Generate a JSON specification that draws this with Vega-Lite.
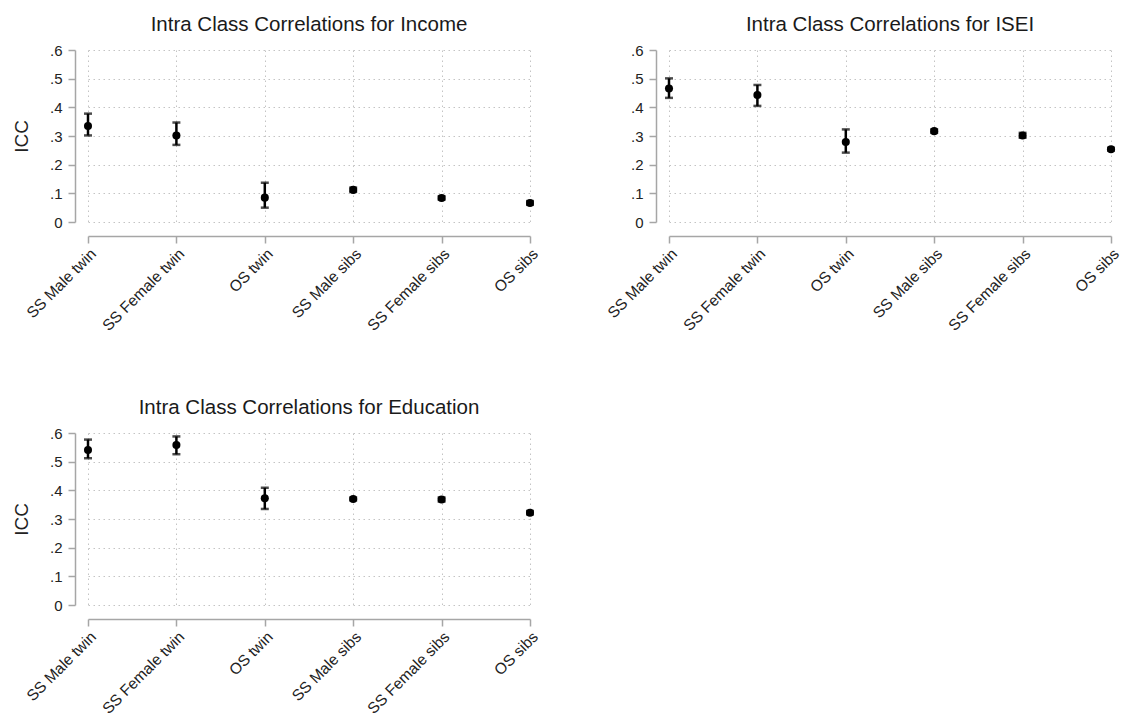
{
  "$schema": "https://vega.github.io/schema/vega-lite/v6.json",
  "background": "white",
  "padding": {"left": 12, "top": 14, "right": 0, "bottom": 0},
  "datasets": {
    "icc": [
      {"measure": "Income", "group": "SS Male twin", "icc": 0.335, "lo": 0.302, "hi": 0.378},
      {"measure": "Income", "group": "SS Female twin", "icc": 0.302, "lo": 0.269, "hi": 0.347},
      {"measure": "Income", "group": "OS twin", "icc": 0.085, "lo": 0.050, "hi": 0.137},
      {"measure": "Income", "group": "SS Male sibs", "icc": 0.112, "lo": 0.105, "hi": 0.120},
      {"measure": "Income", "group": "SS Female sibs", "icc": 0.084, "lo": 0.078, "hi": 0.090},
      {"measure": "Income", "group": "OS sibs", "icc": 0.066, "lo": 0.060, "hi": 0.073},
      {"measure": "ISEI", "group": "SS Male twin", "icc": 0.466, "lo": 0.433, "hi": 0.501},
      {"measure": "ISEI", "group": "SS Female twin", "icc": 0.443, "lo": 0.405, "hi": 0.478},
      {"measure": "ISEI", "group": "OS twin", "icc": 0.279, "lo": 0.242, "hi": 0.323},
      {"measure": "ISEI", "group": "SS Male sibs", "icc": 0.317, "lo": 0.311, "hi": 0.323},
      {"measure": "ISEI", "group": "SS Female sibs", "icc": 0.302, "lo": 0.294, "hi": 0.311},
      {"measure": "ISEI", "group": "OS sibs", "icc": 0.254, "lo": 0.249, "hi": 0.259},
      {"measure": "Education", "group": "SS Male twin", "icc": 0.541, "lo": 0.512, "hi": 0.577},
      {"measure": "Education", "group": "SS Female twin", "icc": 0.558, "lo": 0.526, "hi": 0.588},
      {"measure": "Education", "group": "OS twin", "icc": 0.372, "lo": 0.335, "hi": 0.409},
      {"measure": "Education", "group": "SS Male sibs", "icc": 0.370, "lo": 0.365, "hi": 0.375},
      {"measure": "Education", "group": "SS Female sibs", "icc": 0.368, "lo": 0.361, "hi": 0.375},
      {"measure": "Education", "group": "OS sibs", "icc": 0.322, "lo": 0.316, "hi": 0.328}
    ]
  },
  "data": {"name": "icc"},
  "config": {
    "font": "Liberation Sans",
    "view": {"stroke": null},
    "title": {"fontSize": 20.5, "fontWeight": "normal", "color": "#1a1a1a", "anchor": "middle", "offset": 8},
    "axis": {
      "domainColor": "#a6a6a6", "domainWidth": 1.5, "tickColor": "#a6a6a6", "tickWidth": 1.5, "tickSize": 7,
      "labelFont": "Liberation Sans", "labelFontSize": 15.5, "labelColor": "#222222", "labelPadding": 3,
      "titleFont": "Liberation Sans", "titleFontSize": 19, "titleFontWeight": "normal", "titleColor": "#222222",
      "gridColor": "#c4c4c4", "gridDash": [1.5, 3.5], "gridWidth": 1, "labelOverlap": false
    },
    "axisY": {"labelFontSize": 15, "labelPadding": 6}
  },
  "spacing": 63,
  "vconcat": [
    {
      "spacing": 64,
      "hconcat": [
        {
          "width": 442, "height": 172,
          "title": "Intra Class Correlations for Income",
          "transform": [{"filter": "datum.measure === 'Income'"}],
          "encoding": {
            "x": {"field": "group", "type": "nominal", "sort": ["SS Male twin", "SS Female twin", "OS twin", "SS Male sibs", "SS Female sibs", "OS sibs"], "scale": {"type": "point", "padding": 0}, "axis": {"title": null, "labelAngle": -45, "offset": 14, "grid": true}}
          },
          "layer": [
            {"mark": {"type": "errorbar", "ticks": true, "thickness": 2.5, "size": 8, "color": "black"},
             "encoding": {"y": {"field": "lo", "type": "quantitative", "title": "ICC", "scale": {"domain": [0, 0.6], "nice": false}, "axis": {"values": [0, 0.1, 0.2, 0.3, 0.4, 0.5, 0.6], "labelExpr": "datum.value === 0 ? '0' : replace(format(datum.value, '.1f'), '0.', '.')", "offset": 13, "titlePadding": 18, "grid": true}}, "y2": {"field": "hi"}}},
            {"mark": {"type": "point", "filled": true, "shape": "circle", "size": 65, "color": "black", "opacity": 1},
             "encoding": {"y": {"field": "icc", "type": "quantitative", "title": "ICC", "scale": {"domain": [0, 0.6], "nice": false}, "axis": {"values": [0, 0.1, 0.2, 0.3, 0.4, 0.5, 0.6], "labelExpr": "datum.value === 0 ? '0' : replace(format(datum.value, '.1f'), '0.', '.')", "offset": 13, "titlePadding": 18, "grid": true}}}}
          ]
        },
        {
          "width": 442, "height": 172,
          "title": "Intra Class Correlations for ISEI",
          "transform": [{"filter": "datum.measure === 'ISEI'"}],
          "encoding": {
            "x": {"field": "group", "type": "nominal", "sort": ["SS Male twin", "SS Female twin", "OS twin", "SS Male sibs", "SS Female sibs", "OS sibs"], "scale": {"type": "point", "padding": 0}, "axis": {"title": null, "labelAngle": -45, "offset": 14, "grid": true}}
          },
          "layer": [
            {"mark": {"type": "errorbar", "ticks": true, "thickness": 2.5, "size": 8, "color": "black"},
             "encoding": {"y": {"field": "lo", "type": "quantitative", "title": null, "scale": {"domain": [0, 0.6], "nice": false}, "axis": {"values": [0, 0.1, 0.2, 0.3, 0.4, 0.5, 0.6], "labelExpr": "datum.value === 0 ? '0' : replace(format(datum.value, '.1f'), '0.', '.')", "offset": 13, "grid": true}}, "y2": {"field": "hi"}}},
            {"mark": {"type": "point", "filled": true, "shape": "circle", "size": 65, "color": "black", "opacity": 1},
             "encoding": {"y": {"field": "icc", "type": "quantitative", "title": null, "scale": {"domain": [0, 0.6], "nice": false}, "axis": {"values": [0, 0.1, 0.2, 0.3, 0.4, 0.5, 0.6], "labelExpr": "datum.value === 0 ? '0' : replace(format(datum.value, '.1f'), '0.', '.')", "offset": 13, "grid": true}}}}
          ]
        }
      ]
    },
    {
      "width": 442, "height": 172,
      "title": "Intra Class Correlations for Education",
      "transform": [{"filter": "datum.measure === 'Education'"}],
      "encoding": {
        "x": {"field": "group", "type": "nominal", "sort": ["SS Male twin", "SS Female twin", "OS twin", "SS Male sibs", "SS Female sibs", "OS sibs"], "scale": {"type": "point", "padding": 0}, "axis": {"title": null, "labelAngle": -45, "offset": 14, "grid": true}}
      },
      "layer": [
        {"mark": {"type": "errorbar", "ticks": true, "thickness": 2.5, "size": 8, "color": "black"},
         "encoding": {"y": {"field": "lo", "type": "quantitative", "title": "ICC", "scale": {"domain": [0, 0.6], "nice": false}, "axis": {"values": [0, 0.1, 0.2, 0.3, 0.4, 0.5, 0.6], "labelExpr": "datum.value === 0 ? '0' : replace(format(datum.value, '.1f'), '0.', '.')", "offset": 13, "titlePadding": 18, "grid": true}}, "y2": {"field": "hi"}}},
        {"mark": {"type": "point", "filled": true, "shape": "circle", "size": 65, "color": "black", "opacity": 1},
         "encoding": {"y": {"field": "icc", "type": "quantitative", "title": "ICC", "scale": {"domain": [0, 0.6], "nice": false}, "axis": {"values": [0, 0.1, 0.2, 0.3, 0.4, 0.5, 0.6], "labelExpr": "datum.value === 0 ? '0' : replace(format(datum.value, '.1f'), '0.', '.')", "offset": 13, "titlePadding": 18, "grid": true}}}}
      ]
    }
  ]
}
